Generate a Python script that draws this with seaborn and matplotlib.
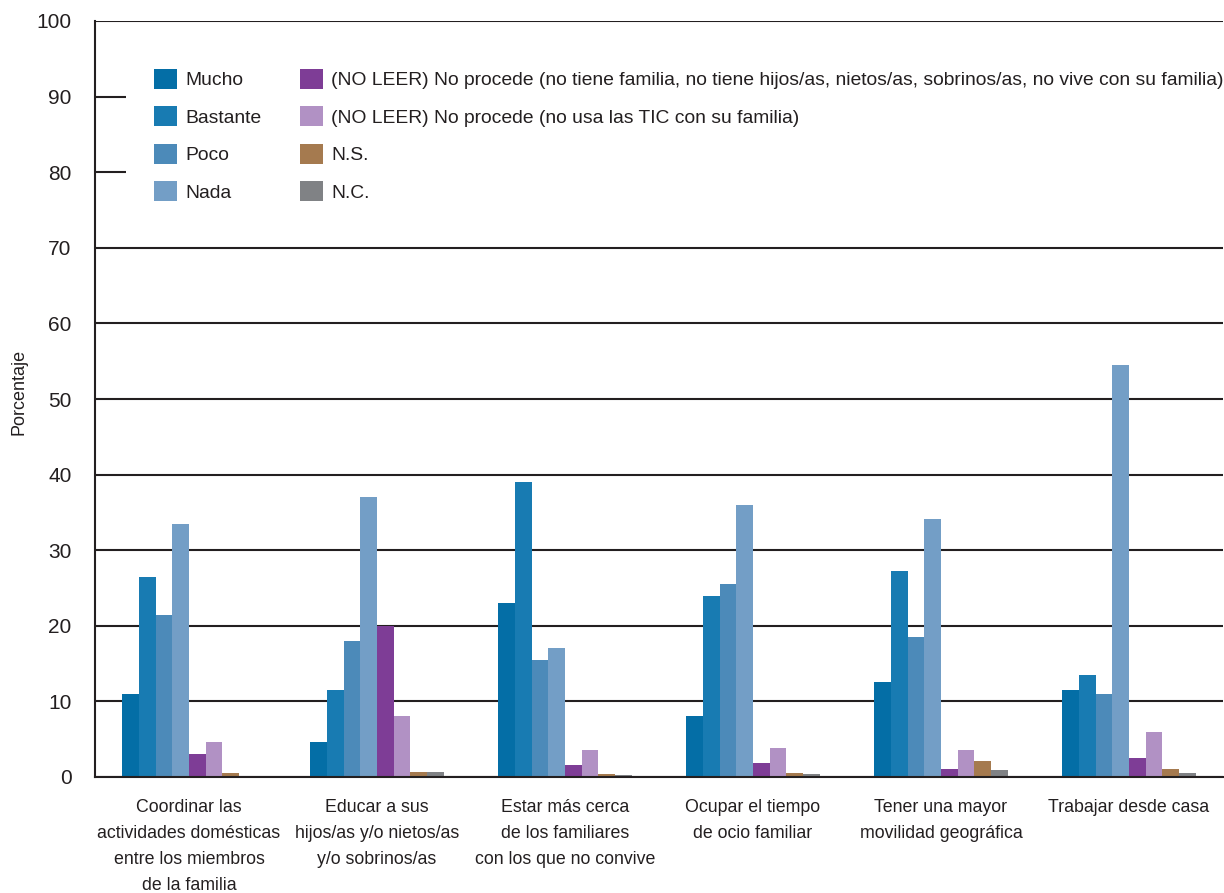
import matplotlib
matplotlib.use("Agg")
import matplotlib.pyplot as plt
import seaborn as sns
import pandas as pd
import numpy as np
from matplotlib.ticker import FixedLocator

categories = [
    "Coordinar las\nactividades domésticas\nentre los miembros\nde la familia",
    "Educar a sus\nhijos/as y/o nietos/as\ny/o sobrinos/as",
    "Estar más cerca\nde los familiares\ncon los que no convive",
    "Ocupar el tiempo\nde ocio familiar",
    "Tener una mayor\nmovilidad geográfica",
    "Trabajar desde casa",
]

series_names = [
    "Mucho",
    "Bastante",
    "Poco",
    "Nada",
    "(NO LEER) No procede (no tiene familia, no tiene hijos/as, nietos/as, sobrinos/as, no vive con su familia)",
    "(NO LEER) No procede (no usa las TIC con su familia)",
    "N.S.",
    "N.C.",
]

mucho = [11.0, 4.6, 23.0, 8.1, 12.6, 11.5]
bastante = [26.5, 11.5, 39.0, 24.0, 27.2, 13.5]
poco = [21.4, 18.0, 15.5, 25.5, 18.5, 11.0]
nada = [33.5, 37.0, 17.0, 36.0, 34.1, 54.5]
no_procede_familia = [3.0, 20.0, 1.6, 1.8, 1.0, 2.5]
no_procede_tic = [4.6, 8.1, 3.6, 3.8, 3.6, 6.0]
ns = [0.5, 0.7, 0.4, 0.5, 2.1, 1.0]
nc = [0.0, 0.7, 0.2, 0.4, 0.9, 0.5]

colors = ["#046EA6", "#187BB2", "#4C8AB9", "#739EC6",
          "#7E3D96", "#B191C4", "#A57A4F", "#808285"]

all_series = [mucho, bastante, poco, nada, no_procede_familia, no_procede_tic, ns, nc]
rows = []
for name, vals in zip(series_names, all_series):
    for cat, v in zip(categories, vals):
        rows.append({"cat": cat, "serie": name, "valor": v})
df = pd.DataFrame(rows)

sns.set_style("white")
plt.rcParams["font.family"] = ["Liberation Sans", "DejaVu Sans"]

ink = "#231F20"
fig = plt.figure(figsize=(12.24, 8.93), dpi=100)
ax = fig.add_axes([95 / 1224, 1 - 777 / 893, (1223 - 95) / 1224, (777 - 21) / 893])

sns.barplot(data=df, x="cat", y="valor", hue="serie", order=categories,
            hue_order=series_names, palette=colors, saturation=1,
            width=0.71, linewidth=0, ax=ax)

ax.set_xlim(-0.5, len(categories) - 0.5)
ax.set_ylim(0, 100)
ax.set_yticks(np.arange(0, 101, 10))
ax.yaxis.grid(True, color=ink, linewidth=1.5)
ax.set_axisbelow(True)
for s in ["top", "right"]:
    ax.spines[s].set_visible(False)
for s in ["left", "bottom"]:
    ax.spines[s].set_color(ink)
    ax.spines[s].set_linewidth(1.5)

ax.tick_params(axis="y", direction="out", length=12, width=1.5, color=ink,
               pad=5, labelsize=15, labelcolor=ink)
ax.xaxis.set_minor_locator(FixedLocator(np.arange(-0.5, len(categories), 1.0)))
ax.tick_params(axis="x", which="minor", direction="out", length=11.5, width=1.5, color=ink)
ax.tick_params(axis="x", which="major", length=0, pad=15.5, labelsize=12.8, labelcolor=ink)
for lab in ax.get_xticklabels():
    lab.set_linespacing(1.7)
    lab.set_ha("center")

ax.set_xlabel("")
ax.set_ylabel("Porcentaje", fontsize=13, color=ink)
ax.yaxis.set_label_coords(-(95 - 28) / 1128, (777 - 392) / 756)

handles, labels = ax.get_legend_handles_labels()
leg = ax.legend(handles, labels, ncol=2, loc="upper left",
                bbox_to_anchor=((126 - 95) / 1128, 1 - (41 - 21) / 756), fontsize=13.9,
                frameon=True, facecolor="white", edgecolor="none", framealpha=1,
                borderpad=1.45, borderaxespad=0, handlelength=1.2, handleheight=1.2,
                handletextpad=0.42, labelspacing=0.88, columnspacing=2.0,
                fancybox=False)
for t in leg.get_texts():
    t.set_color(ink)

fig.savefig("out.png", dpi=100)
